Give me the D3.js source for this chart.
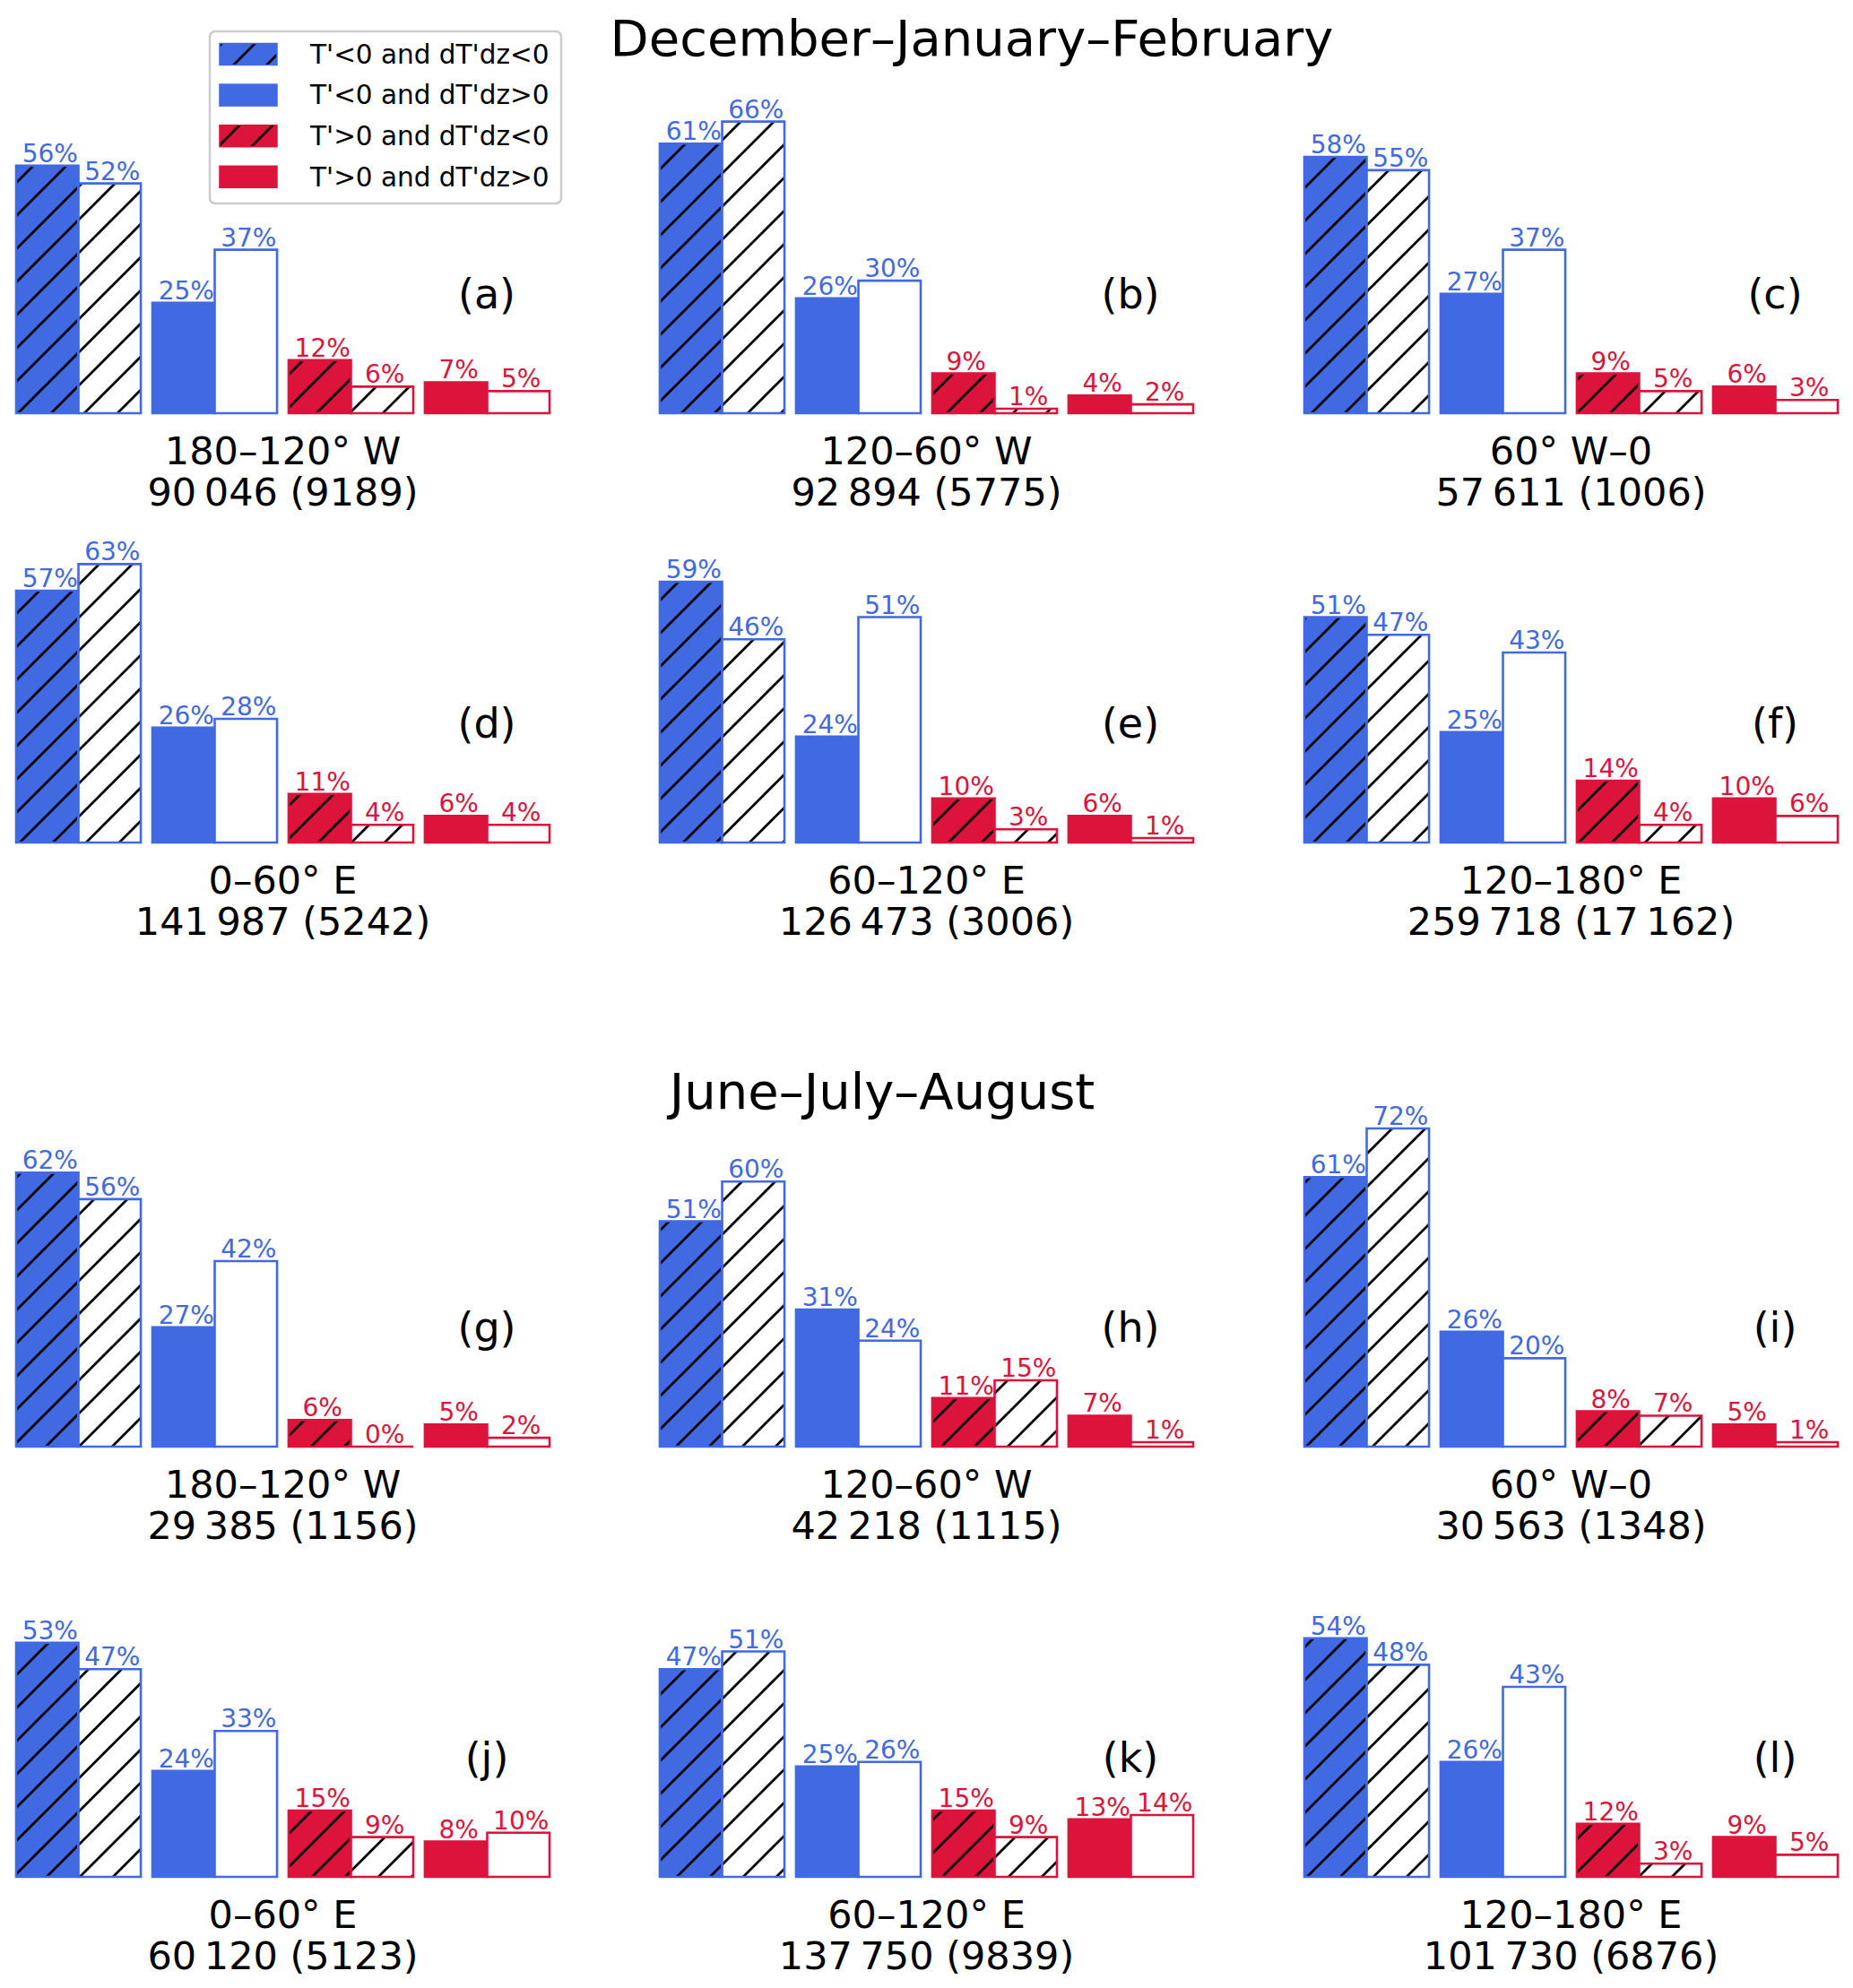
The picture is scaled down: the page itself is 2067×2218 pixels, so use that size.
<!DOCTYPE html>
<html>
<head>
<meta charset="utf-8">
<script src="https://cdn.jsdelivr.net/npm/d3@7"></script>
<style>
  body { margin: 0; background: #fff; }
  svg { display: block; font-family: "DejaVu Sans", sans-serif; }
</style>
</head>
<body>
<svg id="chart"></svg>
<script>
const seasons = ["December–January–February", "June–July–August"];
const categories = [
  "T'<0 and dT'dz<0",
  "T'<0 and dT'dz>0",
  "T'>0 and dT'dz<0",
  "T'>0 and dT'dz>0",
];
const regions = ["180–120° W", "120–60° W", "60° W–0", "0–60° E", "60–120° E", "120–180° E"];
const letters = ["a", "b", "c", "d", "e", "f", "g", "h", "i", "j", "k", "l"];

// filled bars (all profiles) and open bars (subset), per region, per category
const djfAll = [[56, 25, 12, 7], [61, 26, 9, 4], [58, 27, 9, 6], [57, 26, 11, 6], [59, 24, 10, 6], [51, 25, 14, 10]];
const djfSub = [[52, 37, 6, 5], [66, 30, 1, 2], [55, 37, 5, 3], [63, 28, 4, 4], [46, 51, 3, 1], [47, 43, 4, 6]];
const djfCounts = ["90\u2009046 (9189)", "92\u2009894 (5775)", "57\u2009611 (1006)",
  "141\u2009987 (5242)", "126\u2009473 (3006)", "259\u2009718 (17\u2009162)"];

const jjaAll = [[62, 27, 6, 5], [51, 31, 11, 7], [61, 26, 8, 5], [53, 24, 15, 8], [47, 25, 15, 13], [54, 26, 12, 9]];
const jjaSub = [[56, 42, 0, 2], [60, 24, 15, 1], [72, 20, 7, 1], [47, 33, 9, 10], [51, 26, 9, 14], [48, 43, 3, 5]];
const jjaCounts = ["29\u2009385 (1156)", "42\u2009218 (1115)", "30\u2009563 (1348)",
  "60\u2009120 (5123)", "137\u2009750 (9839)", "101\u2009730 (6876)"];

const BLUE = "#4169e1";
const RED = "#dc143c";
const catColor = [BLUE, BLUE, RED, RED];
const catHatch = [true, false, true, false];

const width = 2067;
const height = 2218;
const colX = [18, 736, 1455];
const rowBase = [461, 940, 1614, 2094];
const panelW = 595;
const pxPerPct = 4.93;

const svg = d3.select("#chart").attr("width", width).attr("height", height);

// hatch patterns, anchored to the page like matplotlib hatches
const defs = svg.append("defs");
const P = 37;
[["blue", BLUE], ["red", RED], ["white", "#fff"]].forEach(([name, bg]) => {
  const pat = defs
    .append("pattern")
    .attr("id", `hatch-${name}`)
    .attr("patternUnits", "userSpaceOnUse")
    .attr("width", P)
    .attr("height", P);
  pat.append("rect").attr("width", P).attr("height", P).attr("fill", bg);
  pat
    .append("path")
    .attr("d", `M0,${P} L${P},0 M${-P / 2},${P / 2} L${P / 2},${-P / 2} M${P / 2},${P * 1.5} L${P * 1.5},${P / 2}`)
    .attr("stroke", "#000")
    .attr("stroke-width", 2.8);
});
const hatchId = (c) => (c === BLUE ? "url(#hatch-blue)" : "url(#hatch-red)");

const barPath = (x, w, y0, y1) => `M${x},${y0} H${x + w} V${y1} H${x} Z`;

const drawPanel = (ox, base, filled, open, region, count, letter) => {
  const g = svg.append("g");
  const x0 = d3.scaleBand().domain(d3.range(4)).range([ox, ox + panelW]).paddingInner(0.085);
  const x1 = d3.scaleBand().domain([0, 1]).range([0, x0.bandwidth()]);
  const y = d3.scaleLinear().domain([0, 75]).range([base, base - 75 * pxPerPct]);

  d3.range(4).forEach((k) => {
    [filled[k], open[k]].forEach((v, j) => {
      const xb = x0(k) + x1(j);
      const w = x1.bandwidth();
      let fill;
      if (j === 0) fill = catHatch[k] ? hatchId(catColor[k]) : catColor[k];
      else fill = catHatch[k] ? "url(#hatch-white)" : "#fff";
      g.append("path")
        .attr("d", barPath(xb, w, y(0), y(v)))
        .attr("fill", fill)
        .attr("stroke", catColor[k])
        .attr("stroke-width", 2.6);
      g.append("text")
        .attr("x", xb + w / 2 + 3)
        .attr("y", y(v) - 4)
        .attr("text-anchor", "middle")
        .attr("font-size", 28)
        .attr("fill", catColor[k])
        .text(`${v}%`);
    });
  });

  g.append("text")
    .attr("x", ox + 525)
    .attr("y", base - 133)
    .attr("dy", "0.35em")
    .attr("text-anchor", "middle")
    .attr("font-size", 46)
    .text(`(${letter})`);

  const label = g
    .append("text")
    .attr("text-anchor", "middle")
    .attr("font-size", 43)
    .attr("fill", "#000");
  label.append("tspan").attr("x", ox + panelW / 2).attr("y", base + 57).text(region);
  label.append("tspan").attr("x", ox + panelW / 2).attr("y", base + 103).text(count);
};

[[djfAll, djfSub, djfCounts, 0], [jjaAll, jjaSub, jjaCounts, 2]].forEach(([all, sub, counts, r0], s) => {
  regions.forEach((region, i) => {
    const row = r0 + Math.floor(i / 3);
    const col = i % 3;
    drawPanel(colX[col], rowBase[row], all[i], sub[i], region, counts[i], letters[s * 6 + i]);
  });
});

// season titles
svg.append("text").attr("x", 1084).attr("y", 62).attr("text-anchor", "middle")
  .attr("font-size", 56).text(seasons[0]);
svg.append("text").attr("x", 984).attr("y", 1237).attr("text-anchor", "middle")
  .attr("font-size", 56).text(seasons[1]);

// legend
const legend = svg.append("g");
legend
  .append("rect")
  .attr("x", 234)
  .attr("y", 35)
  .attr("width", 392)
  .attr("height", 192)
  .attr("rx", 6)
  .attr("fill", "#fff")
  .attr("fill-opacity", 0.85)
  .attr("stroke", "#cccccc")
  .attr("stroke-width", 2.5);

categories.forEach((cat, i) => {
  const cy = 60.5 + i * 45.6;
  legend
    .append("rect")
    .attr("x", 245)
    .attr("y", cy - 12)
    .attr("width", 64)
    .attr("height", 24)
    .attr("fill", catHatch[i] ? hatchId(catColor[i]) : catColor[i])
    .attr("stroke", catColor[i])
    .attr("stroke-width", 1.5);
  legend
    .append("text")
    .attr("x", 346)
    .attr("y", cy)
    .attr("dy", "0.35em")
    .attr("font-size", 29.5)
    .text(cat);
});
</script>
</body>
</html>
